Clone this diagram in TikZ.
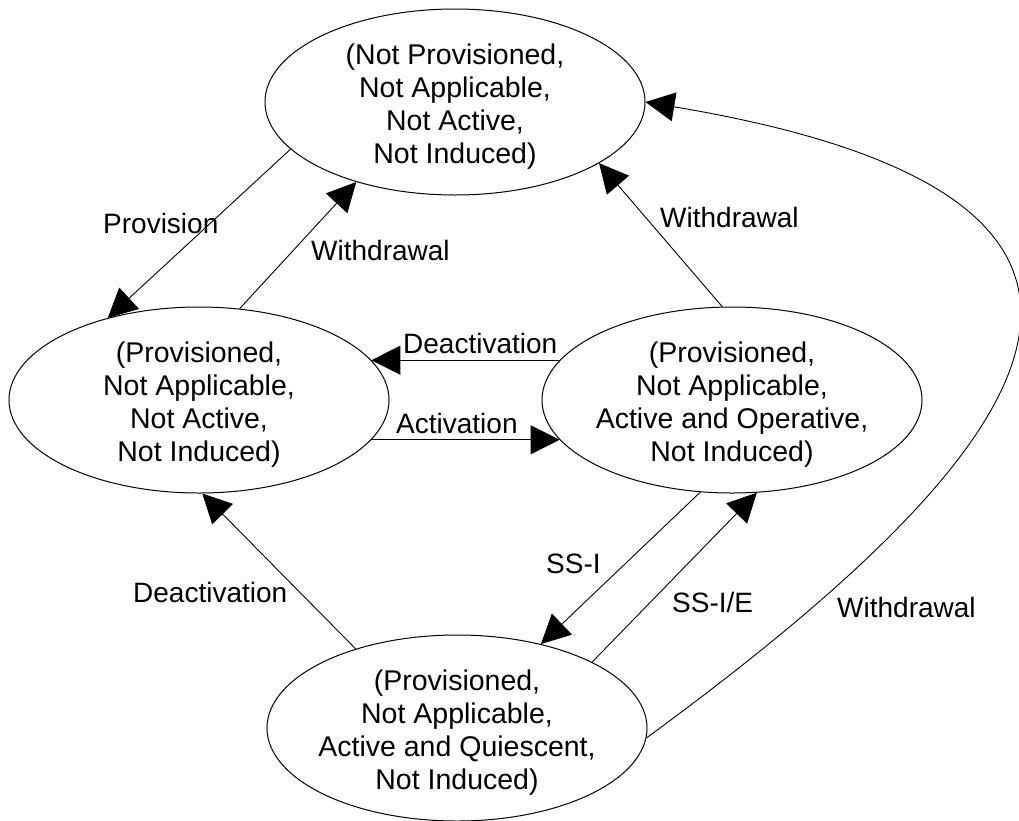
\documentclass[tikz,border=0pt]{standalone}
\usepackage{fontspec}
\setmainfont{Liberation Sans}
\usetikzlibrary{arrows.meta,shapes.geometric}
\newcommand{\ellpad}{\rule{0pt}{30pt}}
\begin{document}
\begin{tikzpicture}[x=1pt,y=-1pt,
  state/.style={draw, ellipse, line width=1pt, minimum width=380pt, minimum height=186pt,
    inner xsep=-12pt, inner ysep=-12pt, align=center, font=\fontsize{28.5}{33}\selectfont},
  lbl/.style={inner sep=0pt, anchor=base west, font=\fontsize{28}{33}\selectfont},
  trans/.style={line width=0.9pt, -{Triangle[length=29pt,width=29pt]}}]
\useasboundingbox (0,0) rectangle (1019,820);
\node[state] (T) at (455,102) {\ellpad(Not Provisioned,\\Not Applicable,\\Not Active,\\Not Induced)};
\node[state] (L) at (199,400) {\ellpad(Provisioned,\\Not Applicable,\\Not Active,\\Not Induced)};
\node[state] (R) at (732,400) {\ellpad(Provisioned,\\Not Applicable,\\Active and Operative,\\Not Induced)};
\node[state] (B) at (457,728) {\ellpad(Provisioned,\\Not Applicable,\\Active and Quiescent,\\Not Induced)};
\draw[trans] (T.196) -- (L.138);
\draw[trans] (L.66) -- (T.219);
\draw[trans] (R.167) -- (L.13);
\draw[trans] (L.347) -- (R.193);
\draw[trans] (R.96) -- (T.337);
\draw[trans] (R.251) -- (B.45);
\draw[trans] (B.26) -- (R.285);
\draw[trans] (B.142) -- (L.272);
\draw[trans] (B.357) .. controls (1040,450) and (1230,200) .. (T.east);
\node[lbl] (l1) at (103,233) {Provision};
\node[lbl] (l2) at (311,260) {Withdrawal};
\node[lbl] (l3) at (403,353) {Deactivation};
\node[lbl] (l4) at (396,433) {Activation};
\node[lbl] (l5) at (660,227) {Withdrawal};
\node[lbl] (l6) at (546,573) {SS-I};
\node[lbl] (l7) at (672,612) {SS-I/E};
\node[lbl] (l8) at (133,602) {Deactivation};
\node[lbl] (l9) at (837,617) {Withdrawal};
\end{tikzpicture}
\end{document}
